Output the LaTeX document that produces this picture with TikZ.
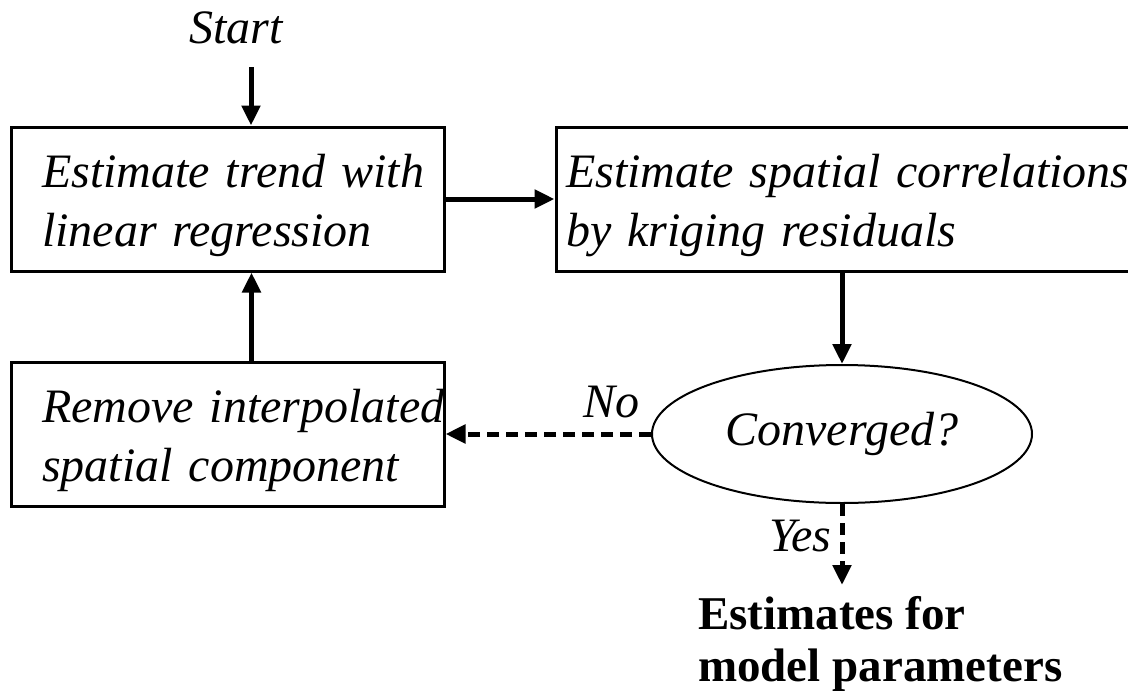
\documentclass[tikz,border=0pt]{standalone}
\usepackage{fontspec}
\setmainfont{Liberation Serif}
\usetikzlibrary{arrows.meta,shapes.geometric,positioning}

\tikzset{
  box/.style={draw, rectangle, line width=3pt, minimum height=144pt, align=left,
    inner xsep=31pt, text width=371pt, text height=47pt,
    font=\itshape\fontsize{48}{59}\selectfont},
  lbl/.style={font=\itshape\fontsize{48}{59}\selectfont},
  arr/.style={line width=5pt, -{Triangle[length=20pt,width=18pt]}},
  darr/.style={arr, dash pattern=on 12pt off 7pt},
}

\begin{document}
\begin{tikzpicture}[x=1pt, y=-1pt]
    \clip (0,0) rectangle (1128,694);

    \node[box] (trend) at (227.5,199) {\mbox{Estimate trend with}\\linear regression};
    \node[box, inner xsep=10pt, text width=580pt] (spatial) at (856,199)
        {\mbox{Estimate spatial correlations}\\by kriging residuals};
    \node[box] (remove) at (227.5,434) {\mbox{Remove interpolated}\\\mbox{spatial component}};
    \node[draw, ellipse, line width=2pt, minimum width=380pt, minimum height=138pt,
        inner sep=0pt, lbl] (conv) at (842,434) {Converged?};
    \node[lbl, anchor=base] (start) at (236,43) {Start};
    \node[anchor=north west, inner sep=0pt, align=left,
        font=\bfseries\fontsize{47}{52}\selectfont] (result) at (698,596)
        {Estimates for\\model parameters};

    \coordinate (entry) at (251,67);
    \coordinate (exit) at (842,585);

    % main loop
    \draw[arr] (entry) -- (entry |- trend.north);
    \draw[arr] (trend.east) -- (spatial.west);
    \draw[arr] (spatial.south -| conv.north) -- (conv.north);
    \draw[darr] (conv.west) -- node[lbl, above, inner sep=14pt, pos=0.19] {No} (remove.east);
    \draw[arr] ([xshift=24pt]remove.north) -- ([xshift=24pt]trend.south);

    % way out
    \draw[darr] (conv.south) -- node[lbl, left, inner sep=8pt, pos=0.39] {Yes} (exit);
\end{tikzpicture}
\end{document}
